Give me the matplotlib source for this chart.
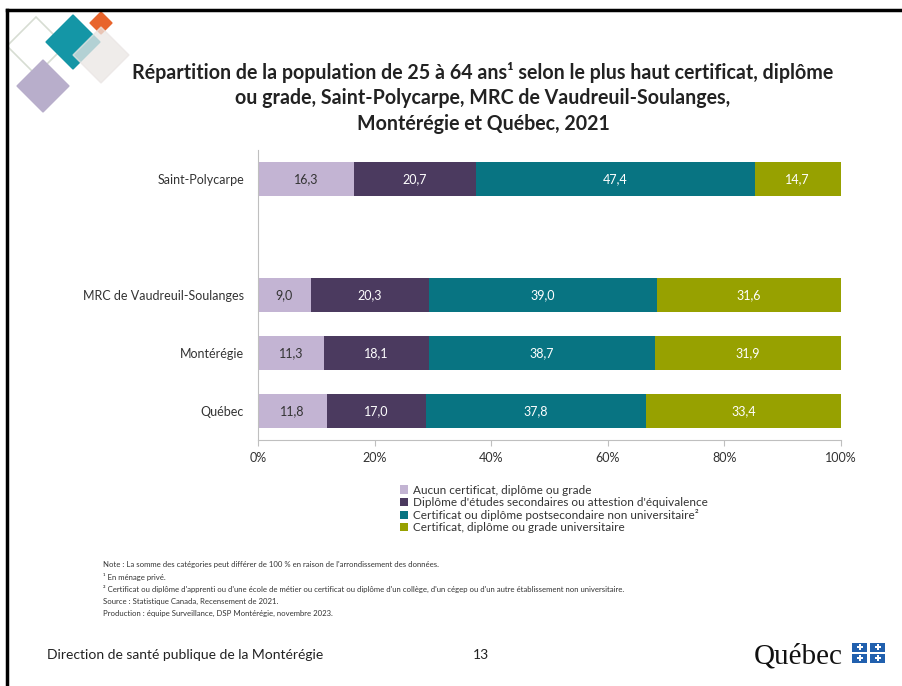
import numpy as np
import matplotlib.pyplot as plt
from matplotlib.patches import Polygon, Rectangle
from matplotlib.lines import Line2D

plt.rcParams['font.family'] = ['Lato', 'DejaVu Sans']

# data (bottom to top, with an empty slot between MRC and Saint-Polycarpe)
regions = ['Québec', 'Montérégie', 'MRC de Vaudreuil-Soulanges', 'Saint-Polycarpe']
positions = [0, 1, 2, 4]
categories = [
    'Aucun certificat, diplôme ou grade',
    "Diplôme d'études secondaires ou attestion d'équivalence",
    'Certificat ou diplôme postsecondaire non universitaire²',
    'Certificat, diplôme ou grade universitaire',
]
aucun = [11.8, 11.3, 9.0, 16.3]
secondaire = [17.0, 18.1, 20.3, 20.7]
postsec = [37.8, 38.7, 39.0, 47.4]
universitaire = [33.4, 31.9, 31.6, 14.7]
colors = ['#C3B4D3', '#4B3A5F', '#087482', '#97A100']
text_colors = ['#333333', 'white', 'white', 'white']
ticks = [0, 20, 40, 60, 80, 100]

notes = [
    "Note : La somme des catégories peut différer de 100 % en raison de l'arrondissement des données.",
    '¹ En ménage privé.',
    "² Certificat ou diplôme d'apprenti ou d'une école de métier ou certificat ou diplôme d'un collège, d'un cégep ou d'un autre établissement non universitaire.",
    'Source : Statistique Canada, Recensement de 2021.',
    'Production : équipe Surveillance, DSP Montérégie, novembre 2023.',
]

W, H = 902, 686
fig = plt.figure(figsize=(W / 100, H / 100), dpi=100)

# background layer in pixel coordinates
bg = fig.add_axes([0, 0, 1, 1], zorder=-1)
bg.set_xlim(0, W)
bg.set_ylim(H, 0)
bg.axis('off')

bg.add_line(Line2D([7, W], [10, 10], color='black', lw=2.5))
bg.add_line(Line2D([7, 7], [10, H], color='black', lw=2.5))


def diamond(cx, cy, r, **kw):
    return Polygon([(cx, cy - r), (cx + r, cy), (cx, cy + r), (cx - r, cy)], **kw)


bg.add_patch(diamond(36, 46, 29, fill=False, ec='#D7DDD3', lw=1.2))
bg.add_patch(diamond(43, 86, 26, color='#B8AECB'))
bg.add_patch(diamond(73, 42, 27, color='#1496A6'))
bg.add_patch(diamond(101, 23, 11, color='#E8642C'))
bg.add_patch(diamond(101, 55, 28, color='#EAE6E4', alpha=0.75))

title = ('Répartition de la population de 25 à 64 ans¹ selon le plus haut certificat, diplôme\n'
         'ou grade, Saint-Polycarpe, MRC de Vaudreuil-Soulanges,\n'
         'Montérégie et Québec, 2021')
bg.text(483, 98, title, ha='center', va='center', fontsize=14.1, fontweight='bold',
        color='#222222', linespacing=1.33)

for i, line in enumerate(notes):
    bg.text(103, 565 + i * 12, line, fontsize=5.6, color='#333333', va='center')

bg.text(47, 655, 'Direction de santé publique de la Montérégie', fontsize=10,
        color='#222222', va='center')
bg.text(481, 655, '13', fontsize=10, color='#222222', va='center', ha='center')

bg.text(754, 657, 'Québec', fontsize=21, family=['Liberation Serif', 'DejaVu Serif'],
        color='#111111', va='center')
for dx in (0, 18):
    for dy in (0, 11):
        bg.add_patch(Rectangle((852 + dx, 643 + dy), 15, 8.5, color='#2160AE', lw=0))
        bg.plot(852 + dx + 7.5, 643 + dy + 4.25, marker='P', ms=4, color='white', mew=0)

# chart: Excel-style 100 % stacked bars, widths normalised per row
ax = fig.add_axes([258 / W, 1 - 440 / H, 583 / W, 290 / H])
series = [aucun, secondaire, postsec, universitaire]
totals = np.sum(np.array(series), axis=0)
left = np.zeros(len(regions))
for vals, col, tcol, lab in zip(series, colors, text_colors, categories):
    vals = np.array(vals)
    widths = vals / totals * 100
    bars = ax.barh(positions, widths, left=left, height=0.58, color=col, label=lab)
    ax.bar_label(bars, labels=[f'{v:.1f}'.replace('.', ',') for v in vals],
                 label_type='center', color=tcol, fontsize=9)
    left += widths

ax.set_xlim(0, 100)
ax.set_ylim(-0.5, 4.5)
ax.set_yticks(positions)
ax.set_yticklabels(regions, fontsize=9, color='#333333')
ax.set_xticks(ticks)
ax.set_xticklabels([f'{t}%' for t in ticks], fontsize=9, color='#333333')
ax.tick_params(axis='y', length=0, pad=10)
ax.tick_params(axis='x', length=4, color='#BFBFBF', pad=5)
for s in ('top', 'right'):
    ax.spines[s].set_visible(False)
for s in ('left', 'bottom'):
    ax.spines[s].set_color('#BFBFBF')

fig.legend(loc='upper left', bbox_to_anchor=(395 / W, 1 - 480 / H), frameon=False,
           fontsize=8.5, handlelength=0.7, handleheight=0.7, handletextpad=0.4,
           labelspacing=0.1, borderaxespad=0, labelcolor='#333333')

fig.savefig('out.png', dpi=100)
